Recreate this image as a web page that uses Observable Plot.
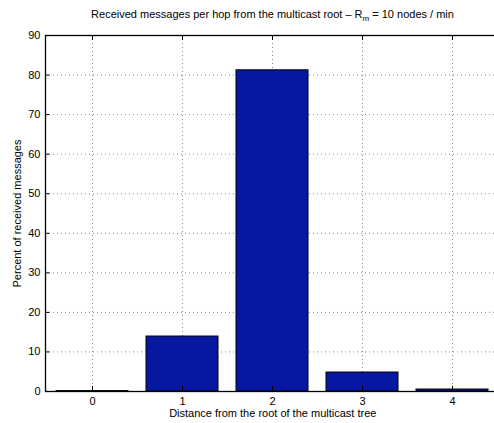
<!DOCTYPE html>
<html><head><meta charset="utf-8">
<script src="https://cdn.jsdelivr.net/npm/d3@7"></script>
<script src="https://cdn.jsdelivr.net/npm/@observablehq/plot@0.6"></script>
<style>
html,body{margin:0;padding:0;overflow:hidden;background:#fff}
#chart{width:494px;height:423px;overflow:hidden}
</style>
</head><body><div id="chart"></div>
<script>
const hops = ["0", "1", "2", "3", "4"];
const percents = [0.1, 13.9, 81.2, 4.8, 0.5];
const yTicks = [0, 10, 20, 30, 40, 50, 60, 70, 80, 90];
const titleMain = "Received messages per hop from the multicast root \u2013 R";
const titleSub = "m";
const titleEnd = " = 10 nodes / min";
const xLabel = "Distance from the root of the multicast tree";
const yLabel = "Percent of received messages";

const data = hops.map((h, i) => ({hop: h, pct: percents[i]}));
const font = "'Liberation Sans', Arial, Helvetica, sans-serif";

const chart = Plot.plot({
  width: 500,
  height: 423,
  marginLeft: 45,
  marginRight: 0.5,
  marginTop: 35,
  marginBottom: 32,
  style: {fontFamily: font, fontSize: "11px", background: "#fff", color: "#000", maxWidth: "none"},
  x: {type: "band", domain: hops, paddingInner: 0.2, paddingOuter: 0.1, label: null},
  y: {domain: [0, 90], label: null},
  marks: [
    Plot.ruleY(yTicks.slice(1, -1), {stroke: "#888", strokeDasharray: "1,3", strokeWidth: 1}),
    Plot.ruleX(hops, {x: d => d, stroke: "#888", strokeDasharray: "1,3", strokeWidth: 1}),
    Plot.barY(data, {x: "hop", y: "pct", fill: "#0718a0", stroke: "#000", strokeWidth: 1}),
    Plot.ruleY(yTicks, {stroke: "#000", insetRight: 500 - 45 - 5, strokeWidth: 1}),
    Plot.ruleX(hops, {x: d => d, y1: 0, y2: 90 * 5 / 356, stroke: "#000"}),
    Plot.ruleX(hops, {x: d => d, y1: 90, y2: 90 - 90 * 5 / 356, stroke: "#000"}),
    Plot.frame({stroke: "#000", strokeWidth: 1.3}),
    Plot.axisY(yTicks, {tickSize: 0, tickPadding: 5, label: null, fontSize: 11}),
    Plot.axisX(hops, {tickSize: 0, tickPadding: 6, label: null, fontSize: 11}),
    Plot.text([xLabel], {frameAnchor: "bottom", dy: 25, fontSize: 11, lineAnchor: "bottom"}),
    Plot.text([yLabel], {frameAnchor: "left", rotate: -90, dx: -28, fontSize: 11, textAnchor: "middle"})
  ]
});

document.getElementById("chart").appendChild(chart);

// Title with subscript, centered over the axes
const svg = d3.select(chart);
const t = svg.append("text")
  .attr("x", 45 + (500 - 45) / 2)
  .attr("y", 18)
  .attr("text-anchor", "middle")
  .attr("font-family", font)
  .attr("font-size", "11px")
  .attr("fill", "#000");
t.append("tspan").text(titleMain);
t.append("tspan").attr("font-size", "8px").attr("dy", 3).text(titleSub);
t.append("tspan").attr("dy", -3).text(titleEnd);
</script>
</body></html>
